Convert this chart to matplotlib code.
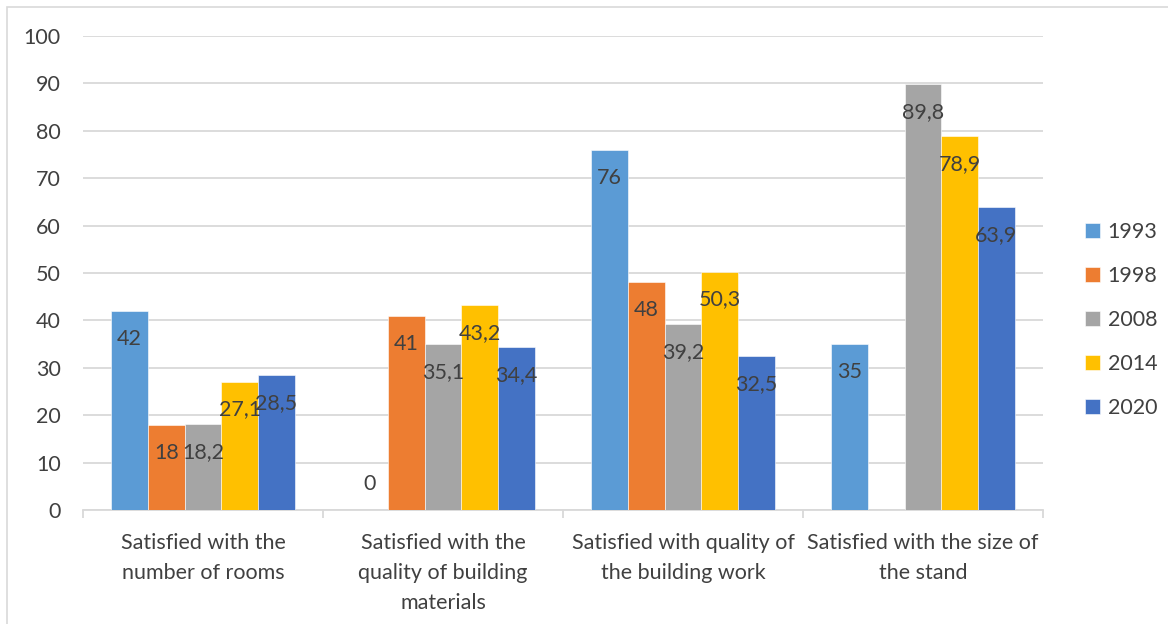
import numpy as np
import matplotlib.pyplot as plt
from matplotlib.patches import Rectangle

categories = ["Satisfied with the\nnumber of rooms",
              "Satisfied with the\nquality of building\nmaterials",
              "Satisfied with quality of\nthe building work",
              "Satisfied with the size of\nthe stand"]
years = ["1993", "1998", "2008", "2014", "2020"]
v1993 = [42, 0, 76, 35]
v1998 = [18, 41, 48, np.nan]
v2008 = [18.2, 35.1, 39.2, 89.8]
v2014 = [27.1, 43.2, 50.3, 78.9]
v2020 = [28.5, 34.4, 32.5, 63.9]
series = [v1993, v1998, v2008, v2014, v2020]
colors = ["#5B9BD5", "#ED7D31", "#A5A5A5", "#FFC000", "#4472C4"]

plt.rcParams['font.family'] = ['Lato', 'DejaVu Sans']
txt = "#404040"
fs = 15.5

W, H = 1168, 624
fig = plt.figure(figsize=(W / 100, H / 100), dpi=100)
ax = fig.add_axes([83 / W, (H - 510) / H, (1043 - 83) / W, (510 - 36) / H])

# outer chart-area frame (only left/top edges fall inside the image)
fig.patches.append(Rectangle((7 / W, -0.05), 1.2, (H - 7) / H + 0.05,
                             transform=fig.transFigure, fill=False,
                             edgecolor="#D9D9D9", lw=1.2))

x = np.arange(len(categories))
bw = 0.153
for i, (vals, c, yr) in enumerate(zip(series, colors, years)):
    pos = x + (i - 2) * bw
    bars = ax.bar(pos, vals, bw, color=c, label=yr, edgecolor="white",
                  linewidth=0.4, zorder=3)
    for p, v in zip(pos, vals):
        if np.isnan(v):
            continue
        lab = ("%g" % v).replace(".", ",")
        dy = -28 if v > 0 else 26
        ax.annotate(lab, (p, v), xytext=(0, dy), textcoords="offset pixels",
                    ha="center", va="center", fontsize=fs, color=txt, zorder=4)

ax.set_xlim(-0.5, len(categories) - 0.5)
ax.set_ylim(0, 100)
ax.set_yticks(range(0, 101, 10))
ax.yaxis.grid(True, color="#D9D9D9", lw=1.3, zorder=0)
ax.tick_params(axis="y", length=0, pad=16, labelsize=fs, labelcolor=txt)
for s in ["top", "right", "left"]:
    ax.spines[s].set_visible(False)
ax.spines["bottom"].set_color("#D9D9D9")
ax.spines["bottom"].set_linewidth(1.3)

# category boundaries get the tick marks, labels sit between them
ax.set_xticks(np.arange(-0.5, len(categories), 1.0))
ax.set_xticklabels([])
ax.tick_params(axis="x", length=6, width=1.3, color="#D9D9D9")
for xi, cat in zip(x, categories):
    ax.annotate(cat, (xi, 0), xytext=(0, -23), textcoords="offset pixels",
                ha="center", va="top", fontsize=fs, color=txt,
                linespacing=1.62, annotation_clip=False)

leg = fig.legend(loc="center left", bbox_to_anchor=(1085 / W, 1 - 320 / H),
                 frameon=False, fontsize=fs, handlelength=0.7,
                 handleheight=0.7, handletextpad=0.35, labelspacing=1.12,
                 borderpad=0, borderaxespad=0)
for t in leg.get_texts():
    t.set_color(txt)

fig.savefig("out.png", dpi=100)
